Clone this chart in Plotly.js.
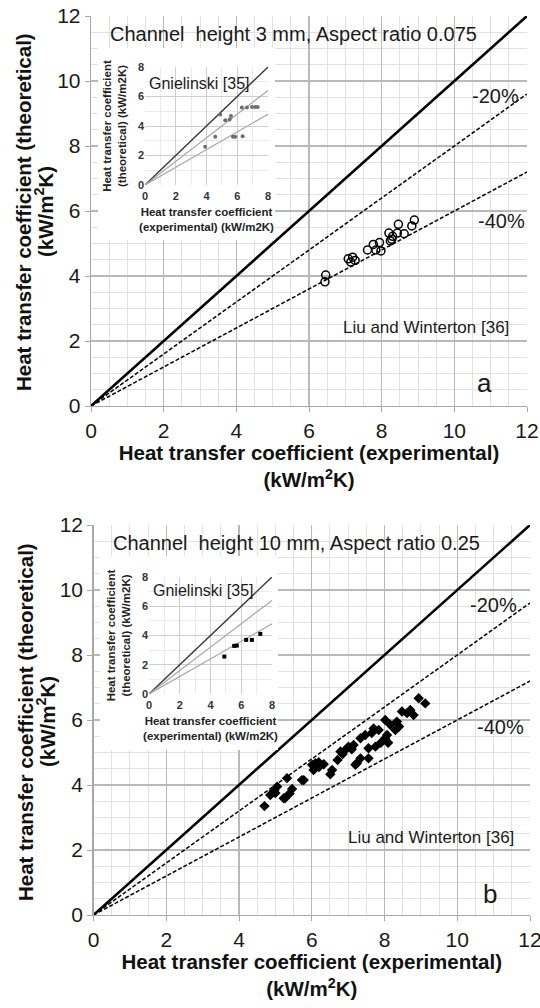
<!DOCTYPE html>
<html>
<head>
<meta charset="utf-8">
<script src="https://cdn.plot.ly/plotly-3.0.1.min.js"></script>
<style>html,body{margin:0;padding:0;background:#fff;}#chart{width:540px;height:1008px;}</style>
</head>
<body>
<div id="chart"></div>
<script>
// ---------- data ----------
const refX = [0, 12];
const refY = [0, 12];
const minus20Y = [0, 9.6];
const minus40Y = [0, 7.2];

const insetRefX = [0, 8];
const insetRefY = [0, 8];
const insetMinus20Y = [0, 6.4];
const insetMinus40Y = [0, 4.8];

const axisTicks = [0, 2, 4, 6, 8, 10, 12];
const insetTicks = [0, 2, 4, 6, 8];

// panel a: Liu and Winterton, channel height 3 mm
const aExpX = [6.44, 6.46, 7.08, 7.15, 7.20, 7.27, 7.61, 7.77, 7.84, 7.94, 7.98, 8.20, 8.24, 8.28, 8.30, 8.43, 8.46, 8.62, 8.83, 8.90];
const aTheoY = [3.82, 4.03, 4.53, 4.43, 4.58, 4.48, 4.80, 4.97, 4.80, 5.03, 4.77, 5.32, 5.08, 5.13, 5.22, 5.32, 5.59, 5.30, 5.54, 5.72];

// panel a inset: Gnielinski
const aInsetX = [3.91, 4.57, 4.89, 5.22, 5.50, 5.59, 5.72, 5.87, 6.35, 6.30, 6.63, 6.96, 7.17, 7.33];
const aInsetY = [2.59, 3.27, 4.78, 4.39, 4.44, 4.68, 3.27, 3.27, 3.31, 5.25, 5.25, 5.29, 5.29, 5.29];

// panel b: Liu and Winterton, channel height 10 mm
const bExpX = [4.70, 4.86, 4.97, 5.05, 5.23, 5.27, 5.39, 5.46, 5.32, 5.73, 5.78, 6.01, 6.05, 6.10, 6.19, 6.33, 6.51, 6.56, 6.71, 6.79, 6.92, 7.01, 7.15, 7.20, 7.24, 7.34, 7.34, 7.47, 7.56, 7.56, 7.70, 7.75, 7.84, 8.02, 8.07, 8.02, 8.16, 8.30, 8.34, 8.48, 8.62, 8.71, 8.80, 8.94, 9.12, 5.00, 6.20, 6.85, 7.10, 7.65, 7.90, 8.10, 8.40];
const bTheoY = [3.35, 3.69, 3.82, 3.95, 3.59, 3.60, 3.74, 3.88, 4.21, 4.15, 4.15, 4.62, 4.46, 4.67, 4.70, 4.64, 4.33, 4.46, 4.77, 5.03, 5.08, 5.18, 5.23, 4.62, 4.67, 4.82, 5.44, 5.54, 5.13, 4.82, 5.74, 5.18, 5.69, 5.44, 5.54, 6.00, 5.85, 5.69, 5.95, 6.26, 6.21, 6.31, 6.15, 6.67, 6.51, 3.75, 4.55, 4.95, 5.10, 5.60, 5.30, 5.30, 5.80];

// panel b inset: Gnielinski
const bInsetX = [4.90, 5.54, 5.71, 6.32, 6.69, 7.24];
const bInsetY = [2.56, 3.29, 3.31, 3.70, 3.70, 4.11];

// ---------- style helpers ----------
const W = 540, H = 1008;
const FONT = 'Liberation Sans, Arial, sans-serif';
const px = (a, b) => [a / W, b / W];
const py = (top, bottom) => [1 - bottom / H, 1 - top / H];

function mainAxis(domain, anchor, title) {
  const a = {
    domain: domain, anchor: anchor, range: [0, 12], tickmode: 'linear', tick0: 0, dtick: 2,
    showline: true, linecolor: '#a8a8a8', linewidth: 1.3, ticks: 'outside', ticklen: 5, tickcolor: '#a8a8a8',
    showgrid: true, gridcolor: '#b9b9b9', gridwidth: 1.3, zeroline: false,
    minor: {tickmode: 'linear', tick0: 0, dtick: 0.5, showgrid: true, gridcolor: '#e2e2e2', gridwidth: 1, ticks: ''},
    tickfont: {family: FONT, size: 21, color: '#1a1a1a'},
    ticklabeloverflow: 'allow',
    automargin: false, fixedrange: true
  };
  if (title) a.title = {text: title, font: {family: FONT, size: 20.5, color: '#111', weight: 'bold'}, standoff: 4};
  return a;
}
function insetAxis(domain, anchor, title, standoff, labelStandoff) {
  return {
    domain: domain, anchor: anchor, range: [0, 8], tickmode: 'linear', tick0: 0, dtick: 2,
    showline: false, ticks: '', showgrid: true, gridcolor: '#cfcfcf', gridwidth: 1, zeroline: false,
    minor: {tickmode: 'linear', tick0: 0, dtick: 1, showgrid: true, gridcolor: '#ebebeb', gridwidth: 1, ticks: ''},
    tickfont: {family: FONT, size: 11, color: '#333', weight: 'bold'},
    ticklabeloverflow: 'allow', ticklabelstandoff: labelStandoff,
    title: {text: title, font: {family: FONT, size: 11.5, color: '#222', weight: 'bold'}, standoff: standoff},
    automargin: false, fixedrange: true
  };
}
function coverAxis(domain, anchor) {
  return {domain: domain, anchor: anchor, range: [0, 1], showgrid: false, zeroline: false, showline: false,
          showticklabels: false, ticks: '', fixedrange: true};
}

const xTitle = 'Heat transfer coefficient (experimental)<br>(kW/m<sup>2</sup>K)';
const yTitleLine1 = 'Heat transfer coefficient (theoretical)';
const yTitleLine2 = '(kW/m<sup>2</sup>K)';
const ixTitle = 'Heat transfer coefficient<br>(experimental) (kW/m2K)';
const iyTitle = 'Heat transfer coefficient<br>(theoretical) (kW/m2K)';

// ---------- traces ----------
function refLines(xa, ya) {
  return [
    {x: refX, y: refY, xaxis: xa, yaxis: ya, mode: 'lines', line: {color: '#000', width: 2.6}, hoverinfo: 'skip'},
    {x: refX, y: minus20Y, xaxis: xa, yaxis: ya, mode: 'lines', line: {color: '#000', width: 1.5, dash: '4px,2px'}, hoverinfo: 'skip'},
    {x: refX, y: minus40Y, xaxis: xa, yaxis: ya, mode: 'lines', line: {color: '#000', width: 1.5, dash: '4px,2px'}, hoverinfo: 'skip'}
  ];
}
function insetLines(xa, ya) {
  return [
    {x: insetRefX, y: insetRefY, xaxis: xa, yaxis: ya, mode: 'lines', line: {color: '#3a3a3a', width: 1.4}, hoverinfo: 'skip'},
    {x: insetRefX, y: insetMinus20Y, xaxis: xa, yaxis: ya, mode: 'lines', line: {color: '#a6a6a6', width: 1.2}, hoverinfo: 'skip'},
    {x: insetRefX, y: insetMinus40Y, xaxis: xa, yaxis: ya, mode: 'lines', line: {color: '#a6a6a6', width: 1.2}, hoverinfo: 'skip'}
  ];
}

const traces = [].concat(
  refLines('x', 'y'),
  [{x: aExpX, y: aTheoY, xaxis: 'x', yaxis: 'y', mode: 'markers',
    marker: {symbol: 'circle-open', size: 8, color: '#000', line: {width: 1.5, color: '#000'}}}],
  insetLines('x3', 'y3'),
  [{x: aInsetX, y: aInsetY, xaxis: 'x3', yaxis: 'y3', mode: 'markers',
    marker: {symbol: 'circle', size: 4, color: '#6e6e6e'}}],
  refLines('x4', 'y4'),
  [{x: bExpX, y: bTheoY, xaxis: 'x4', yaxis: 'y4', mode: 'markers',
    marker: {symbol: 'diamond', size: 8, color: '#000'}}],
  insetLines('x6', 'y6'),
  [{x: bInsetX, y: bInsetY, xaxis: 'x6', yaxis: 'y6', mode: 'markers',
    marker: {symbol: 'square', size: 4, color: '#000'}}]
);

// ---------- annotations ----------
function ann(text, x, y, xr, yr, size, extra) {
  return Object.assign({text: text, x: x, y: y, xref: xr, yref: yr, showarrow: false,
    font: {family: FONT, size: size, color: '#1a1a1a'}}, extra || {});
}
const boldTitle = {family: FONT, size: 20.5, color: '#111', weight: 'bold'};
function yTitleAnn(text, xPx, yCenterPx) {
  return {text: text, x: xPx / W, y: 1 - yCenterPx / H, xref: 'paper', yref: 'paper', showarrow: false,
          textangle: -90, xanchor: 'center', yanchor: 'middle', font: boldTitle};
}
const annotations = [
  ann('Channel  height 3 mm, Aspect ratio 0.075', 5.56, 11.45, 'x', 'y', 20),
  ann('-20%', 11.12, 9.55, 'x', 'y', 20),
  ann('-40%', 11.3, 5.7, 'x', 'y', 20),
  ann('Liu and Winterton [36]', 9.22, 2.43, 'x', 'y', 17),
  ann('a', 10.82, 0.7, 'x', 'y', 26),
  ann('Gnielinski [35]', 0.1, 6.9, 'x3', 'y3', 16, {xanchor: 'left'}),
  yTitleAnn(yTitleLine1, 23, 212),
  yTitleAnn(yTitleLine2, 44, 212),

  ann('Channel  height 10 mm, Aspect ratio 0.25', 5.59, 11.45, 'x4', 'y4', 20),
  ann('-20%', 11.0, 9.55, 'x4', 'y4', 20),
  ann('-40%', 11.2, 5.8, 'x4', 'y4', 20),
  ann('Liu and Winterton [36]', 9.27, 2.4, 'x4', 'y4', 17),
  ann('b', 10.9, 0.65, 'x4', 'y4', 26),
  ann('Gnielinski [35]', 0.1, 7.1, 'x6', 'y6', 16, {xanchor: 'left'}),
  yTitleAnn(yTitleLine1, 25, 722),
  yTitleAnn(yTitleLine2, 46, 722)
];

// white boxes behind the insets (drawn in the cover subplots, above the main grid)
const shapes = [
  {type: 'rect', xref: 'x2', yref: 'y2', x0: 0, x1: 1, y0: 0, y1: 1, fillcolor: '#fff', line: {width: 0}, layer: 'below'},
  {type: 'rect', xref: 'x5', yref: 'y5', x0: 0, x1: 1, y0: 0, y1: 1, fillcolor: '#fff', line: {width: 0}, layer: 'below'}
];

const layout = {
  width: W, height: H,
  margin: {l: 0, r: 0, t: 0, b: 0, pad: 0},
  paper_bgcolor: '#fff', plot_bgcolor: '#fff',
  showlegend: false,
  xaxis: mainAxis(px(91, 527), 'y', xTitle),
  yaxis: mainAxis(py(16, 406), 'x', null),
  xaxis2: coverAxis(px(98, 275), 'y2'),
  yaxis2: coverAxis(py(48, 240), 'x2'),
  xaxis3: insetAxis(px(145, 268), 'y3', ixTitle, 6, 3),
  yaxis3: insetAxis(py(67, 185), 'x3', iyTitle, 8, 0),
  xaxis4: mainAxis(px(93.5, 530), 'y4', xTitle),
  yaxis4: mainAxis(py(525, 915), 'x4', null),
  xaxis5: coverAxis(px(100, 278), 'y5'),
  yaxis5: coverAxis(py(556, 750), 'x5'),
  xaxis6: insetAxis(px(149, 272), 'y6', ixTitle, 6, 3),
  yaxis6: insetAxis(py(577, 694), 'x6', iyTitle, 8, 0),
  annotations: annotations,
  shapes: shapes
};

Plotly.newPlot('chart', traces, layout, {staticPlot: true, displayModeBar: false});
</script>
</body>
</html>
